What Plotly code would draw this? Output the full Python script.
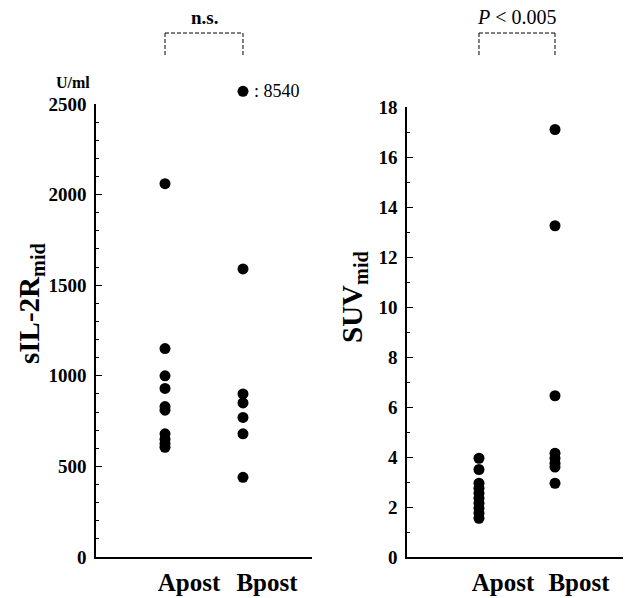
import plotly.graph_objects as go

groups = ["Apost", "Bpost"]
sil_apost = [2060, 1150, 1000, 930, 830, 810, 680, 650, 625, 605]
sil_bpost = [8540, 1590, 900, 850, 770, 680, 440]
sil_break_at = 2570  # off-scale value drawn just above the axis top
suv_apost = [3.95, 3.5, 2.95, 2.75, 2.55, 2.35, 2.15, 1.95, 1.75, 1.55]
suv_bpost = [17.1, 13.25, 6.45, 4.15, 3.95, 3.75, 3.6, 2.95]

W, H = 631, 598
OFF = 8  # page body margin
FONT = "Liberation Serif, Times New Roman, serif"

def px(xp):
    return (xp - OFF) / W

def py(yp):
    return 1 - (yp - OFF) / H

# pixel layout of the left panel
L_BOT, L_TOP, L_EXT = 557, 104, 70
SIL_MAX = 2500
sil_ext_max = SIL_MAX * (L_BOT - L_EXT) / (L_BOT - L_TOP)

fig = go.Figure()
mk = dict(color="black", size=11)

on_scale_b = [v for v in sil_bpost if v <= SIL_MAX]
off_scale_b = [v for v in sil_bpost if v > SIL_MAX]

fig.add_trace(go.Scatter(x=[0] * len(sil_apost), y=sil_apost, mode="markers",
                         marker=mk, xaxis="x", yaxis="y", cliponaxis=False, showlegend=False))
fig.add_trace(go.Scatter(x=[1] * len(on_scale_b), y=on_scale_b, mode="markers",
                         marker=mk, xaxis="x", yaxis="y", cliponaxis=False, showlegend=False))
# off-scale value, drawn on an invisible extended axis just above the top of the scale
fig.add_trace(go.Scatter(x=[1] * len(off_scale_b), y=[sil_break_at] * len(off_scale_b), mode="markers",
                         marker=mk, xaxis="x", yaxis="y3", cliponaxis=False, showlegend=False))
fig.add_trace(go.Scatter(x=[0] * len(suv_apost), y=suv_apost, mode="markers",
                         marker=mk, xaxis="x2", yaxis="y2", cliponaxis=False, showlegend=False))
fig.add_trace(go.Scatter(x=[1] * len(suv_bpost), y=suv_bpost, mode="markers",
                         marker=mk, xaxis="x2", yaxis="y2", cliponaxis=False, showlegend=False))

xcommon = dict(showgrid=False, zeroline=False, showline=True, linecolor="black", linewidth=1.5,
               tickvals=[0, 1], ticktext=["<b>%s</b>" % g for g in groups],
               ticks="outside", ticklen=2, tickcolor="rgba(0,0,0,0)", automargin=False,
               ticklabelshift=24,
               tickfont=dict(family=FONT, size=25, color="black"), fixedrange=True)
ycommon = dict(showgrid=False, zeroline=False, showline=True, linecolor="black", linewidth=1.5,
               ticks="inside", ticklen=6, tickwidth=1.2, tickcolor="black", automargin=False,
               ticklabelstandoff=4,
               tickfont=dict(family=FONT, size=19, color="black"), fixedrange=True)

fig.update_layout(
    width=W, height=H, margin=dict(l=0, r=0, t=0, b=0, autoexpand=False),
    paper_bgcolor="white", plot_bgcolor="rgba(0,0,0,0)",
    xaxis=dict(domain=[px(96), px(312)], range=[-0.885, 1.885], anchor="y", **xcommon),
    yaxis=dict(domain=[py(L_BOT), py(L_TOP)], range=[0, SIL_MAX], anchor="x",
               tickvals=[0, 500, 1000, 1500, 2000, 2500],
               ticktext=["<b>%d</b>" % v for v in [0, 500, 1000, 1500, 2000, 2500]],
               minor=dict(ticks="inside", ticklen=3, dtick=100, tickcolor="black"), **ycommon),
    yaxis3=dict(domain=[py(L_BOT), py(L_EXT)], range=[0, sil_ext_max], anchor="x",
                visible=False, fixedrange=True),
    xaxis2=dict(domain=[px(407), px(627)], range=[-0.947, 1.947], anchor="y2", **xcommon),
    yaxis2=dict(domain=[py(557), py(107)], range=[0, 18], anchor="x2", tickvals=list(range(0, 19, 2)),
                ticktext=["<b>%d</b>" % v for v in range(0, 19, 2)],
                minor=dict(ticks="inside", ticklen=3, dtick=1, tickcolor="black"), **ycommon),
)

ann_font = dict(family=FONT, color="black")
c = dict(xanchor="center", yanchor="middle", showarrow=False)
anns = [
    dict(text="<b>sIL-2R<sub>mid</sub></b>", x=px(31), y=py(303), xref="paper", yref="paper",
         textangle=-90, font=dict(size=29, **ann_font), **c),
    dict(text="<b>SUV<sub>mid</sub></b>", x=px(354), y=py(297), xref="paper", yref="paper",
         textangle=-90, font=dict(size=29, **ann_font), **c),
    dict(text="<b>U/ml</b>", x=px(73), y=py(82), xref="paper", yref="paper",
         font=dict(size=16, **ann_font), **c),
    dict(text="<b>n.s.</b>", x=0.5, y=py(18), xref="x", yref="paper",
         font=dict(size=19, **ann_font), **c),
    dict(text="<i>P</i> < 0.005", x=0.5, y=py(17), xref="x2", yref="paper",
         font=dict(size=20, **ann_font), **c),
]
for v in off_scale_b:
    anns.append(dict(text=": %d" % v, x=1, y=sil_break_at, xref="x", yref="y3",
                     xanchor="left", yanchor="middle", xshift=9, showarrow=False,
                     font=dict(size=18, **ann_font)))
fig.update_layout(annotations=anns)

dash = dict(color="black", width=1, dash="4px,2px")
for xr in ["x", "x2"]:
    fig.add_shape(type="line", xref=xr, yref="paper", x0=0, x1=1, y0=py(33), y1=py(33), line=dash)
    fig.add_shape(type="line", xref=xr, yref="paper", x0=0, x1=0, y0=py(33), y1=py(57), line=dash)
    fig.add_shape(type="line", xref=xr, yref="paper", x0=1, x1=1, y0=py(33), y1=py(57), line=dash)

fig.write_html("out.html")
